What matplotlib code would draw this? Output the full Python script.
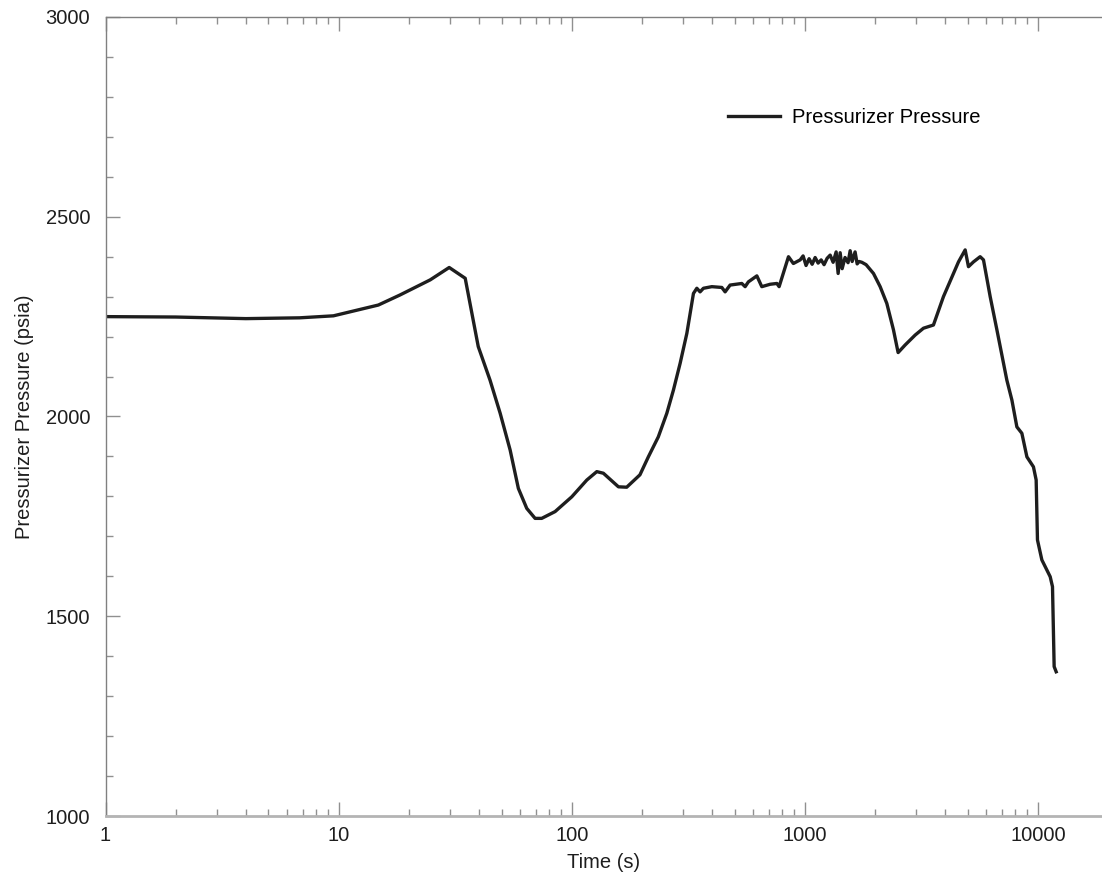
import numpy as np
import matplotlib
import matplotlib.pyplot as plt
from matplotlib.ticker import MultipleLocator, LogLocator, NullFormatter, FixedLocator, FixedFormatter

matplotlib.use('Agg')

plt.rcParams['font.family'] = ['Liberation Sans', 'DejaVu Sans']

# time (s) and pressurizer pressure (psia)
time_s = [1, 2, 4, 6.8, 9.5, 14.8, 18.3, 24.7, 29.8, 34.9, 39.7, 44.6, 49.3,
          54.4, 59.0, 64.1, 69.6, 74.3, 84.8, 100, 116, 128, 136.6, 158.5,
          172, 196, 213, 235, 255.6, 272.8, 291.5, 311.5, 332.5, 343.8, 355,
          367, 398.7, 440, 454.6, 477.6, 536, 554, 572, 622, 653, 709, 758,
          775, 850, 892, 954, 982, 1011, 1042, 1074, 1106, 1139, 1174, 1208,
          1245, 1283, 1321, 1361, 1388, 1416, 1444, 1486, 1531, 1563, 1594,
          1641, 1675, 1708, 1754, 1830, 1968, 2102, 2245, 2397, 2510, 2690,
          2972, 3224, 3558, 3927, 4336, 4556, 4867, 5028, 5283, 5643, 5832,
          6231, 6658, 7346, 7722, 8110, 8520, 8954, 9552, 9812, 9940, 10380,
          11270, 11530, 11720, 11955]
pressure = [2250, 2249, 2245, 2247, 2252, 2279, 2304, 2342, 2373, 2346, 2175,
            2091, 2008, 1916, 1820, 1770, 1745, 1745, 1762, 1799, 1841, 1862,
            1858, 1824, 1823, 1854, 1899, 1949, 2008, 2066, 2133, 2208, 2308,
            2321, 2312, 2321, 2325, 2323, 2312, 2329, 2333, 2325, 2337, 2352,
            2325, 2331, 2333, 2325, 2400, 2383, 2392, 2402, 2378, 2395, 2381,
            2398, 2384, 2392, 2380, 2396, 2404, 2386, 2412, 2358, 2410, 2370,
            2398, 2385, 2415, 2388, 2412, 2382, 2388, 2386, 2380, 2358, 2325,
            2283, 2217, 2160, 2179, 2204, 2221, 2229, 2300, 2358, 2387, 2417,
            2375, 2387, 2400, 2392, 2300, 2217, 2091, 2041, 1974, 1958, 1899,
            1874, 1841, 1691, 1641, 1599, 1574, 1374, 1361]

fig = plt.figure(figsize=(11.02, 8.8), dpi=100)
ax = fig.add_axes([105.5 / 1102, 1 - 816 / 880, 1 - 105.5 / 1102, (816 - 17) / 880])

ax.plot(time_s, pressure, color='#1e1e1e', linewidth=2.4, label='Pressurizer Pressure')

ax.set_xscale('log')
ax.set_xlim(1, 18800)
ax.set_ylim(1000, 3000)

ax.xaxis.set_major_locator(FixedLocator([1, 10, 100, 1000, 10000]))
ax.xaxis.set_major_formatter(FixedFormatter(['1', '10', '100', '1000', '10000']))
ax.xaxis.set_minor_locator(LogLocator(base=10, subs=np.arange(2, 10)))
ax.xaxis.set_minor_formatter(NullFormatter())
ax.yaxis.set_major_locator(MultipleLocator(500))
ax.yaxis.set_minor_locator(MultipleLocator(100))

ax.tick_params(which='both', direction='in', top=True, right=False, color='#909090', labelcolor='#1e1e1e', labelsize=14.5)
ax.tick_params(which='major', length=10, width=1)
ax.tick_params(which='minor', length=5, width=1)
ax.tick_params(axis='x', pad=7)
ax.tick_params(axis='y', pad=11)

for side in ['left', 'top']:
    ax.spines[side].set_color('#808080')
    ax.spines[side].set_linewidth(1)
ax.spines['right'].set_visible(False)
ax.spines['bottom'].set_color('#b4b4b4')
ax.spines['bottom'].set_linewidth(2)

ax.set_xlabel('Time (s)', fontsize=14.5, color='#1e1e1e', labelpad=6)
ax.set_ylabel('Pressurizer Pressure (psia)', fontsize=14.5, color='#1e1e1e', labelpad=8)

ax.legend(loc='center left', bbox_to_anchor=(0.6247, 0.8736), frameon=False,
          fontsize=14.5, handlelength=2.6, handletextpad=0.6, borderpad=0, borderaxespad=0)

plt.savefig('out.png', dpi=100)
plt.close()
